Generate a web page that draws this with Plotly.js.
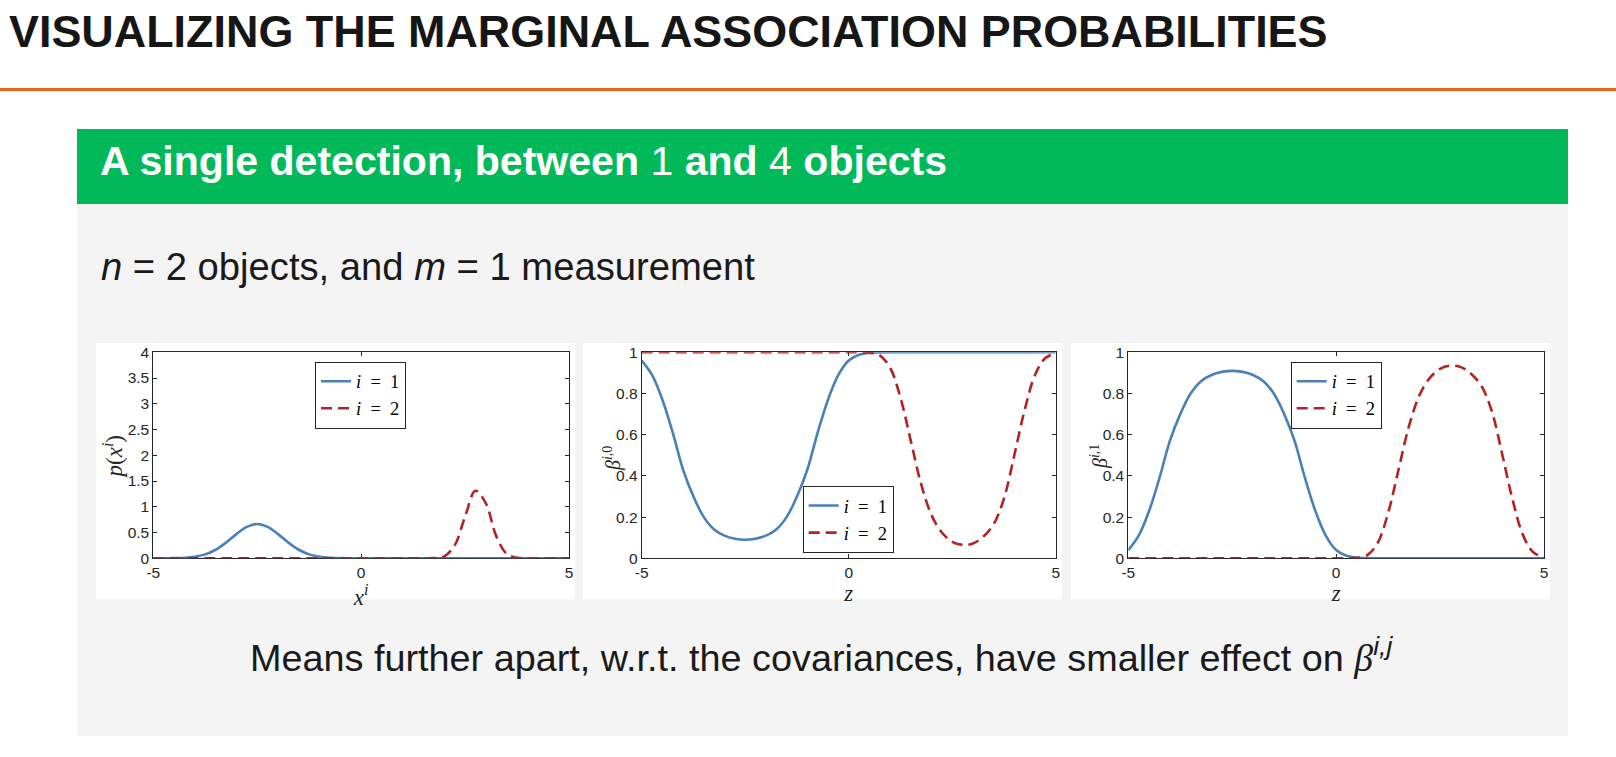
<!DOCTYPE html>
<html>
<head>
<meta charset="utf-8">
<script src="https://cdn.plot.ly/plotly-3.0.1.min.js"></script>
<style>
  html, body { margin: 0; padding: 0; background: #ffffff; overflow: hidden; }
  #chart { width: 1616px; height: 757px; }
</style>
</head>
<body>
<div id="chart"></div>
<script>
// ---------- data ----------
const zGrid = [-5, -4.75, -4.5, -4.25, -4, -3.75, -3.5, -3.25, -3, -2.75, -2.5, -2.25, -2, -1.75, -1.5, -1.25, -1, -0.75, -0.5, -0.25, 0,
               0.25, 0.5, 0.75, 1, 1.25, 1.5, 1.75, 2, 2.25, 2.5, 2.75, 3, 3.25, 3.5, 3.75, 4, 4.25, 4.5, 4.75, 5];

// p(x^i)
const pBlue = [0.0001, 0.0006, 0.0026, 0.0095, 0.029, 0.076, 0.166, 0.305, 0.47, 0.61, 0.665, 0.61, 0.47, 0.305, 0.166, 0.076, 0.029, 0.0095, 0.0026, 0.0006, 0.0001,
               0, 0, 0, 0, 0, 0, 0, 0, 0, 0, 0, 0, 0, 0, 0, 0, 0, 0, 0, 0];
const pRed  = [0, 0, 0, 0, 0, 0, 0, 0, 0, 0, 0, 0, 0, 0, 0, 0, 0, 0, 0, 0, 0,
               0, 0, 0, 0, 0, 0.0001, 0.003, 0.038, 0.25, 0.81, 1.31, 1.065, 0.43, 0.088, 0.009, 0.0004, 0, 0, 0, 0];

// beta^{i,0}
const beta0Blue = [0.96, 0.89, 0.77, 0.61, 0.43, 0.30, 0.20, 0.14, 0.11, 0.095, 0.09, 0.095, 0.11, 0.14, 0.20, 0.30, 0.43, 0.61, 0.77, 0.89, 0.96,
                   0.988, 0.997, 0.999, 1, 1, 1, 1, 1, 1, 1, 1, 1, 1, 1, 1, 1, 1, 1, 1, 1];
const beta0Red  = [1, 1, 1, 1, 1, 1, 1, 1, 1, 1, 1, 1, 1, 1, 1, 1, 1, 1, 1, 1, 1,
                   1, 0.998, 0.985, 0.925, 0.78, 0.57, 0.36, 0.21, 0.125, 0.08, 0.065, 0.072, 0.105, 0.165, 0.29, 0.50, 0.72, 0.89, 0.972, 0.995];

// beta^{i,1}
const beta1Blue = [0.04, 0.11, 0.23, 0.39, 0.57, 0.70, 0.80, 0.86, 0.89, 0.905, 0.91, 0.905, 0.89, 0.86, 0.80, 0.70, 0.57, 0.39, 0.23, 0.11, 0.04,
                   0.012, 0.003, 0.001, 0, 0, 0, 0, 0, 0, 0, 0, 0, 0, 0, 0, 0, 0, 0, 0, 0];
const beta1Red  = [0, 0, 0, 0, 0, 0, 0, 0, 0, 0, 0, 0, 0, 0, 0, 0, 0, 0, 0, 0, 0,
                   0, 0.002, 0.015, 0.075, 0.22, 0.43, 0.64, 0.79, 0.875, 0.92, 0.935, 0.928, 0.895, 0.835, 0.71, 0.50, 0.28, 0.11, 0.028, 0.005];

const seriesNames = ['<i>i</i>\u00a0\u00a0=\u00a0\u00a01', '<i>i</i>\u00a0\u00a0=\u00a0\u00a02'];
const xTickVals = [-5, 0, 5];
const xTickText = ['-5', '0', '5'];
const xTitles = ['<i>x</i><sup><i>i</i></sup>', '<i>z</i>', '<i>z</i>'];
const yTitles = ['<i>p</i>(<i>x</i><sup><i>i</i></sup>)', '<i>\u03b2</i><sup><i>i</i>,0</sup>', '<i>\u03b2</i><sup><i>i</i>,1</sup>'];

// ---------- layout helpers ----------
const W = 1616, H = 757;
const px = v => v / W;
const py = v => 1 - v / H;

const BLUE = '#4a80b8';
const RED = '#b22424';
const AXC = '#262626';
const SANS = 'Liberation Sans, Arial, Helvetica, sans-serif';
const SERIF = 'Liberation Serif, Times New Roman, serif';
const TICK_SIZE = 15.5;

function lineTrace(x, y, ax, leg, idx) {
  return {
    type: 'scatter', mode: 'lines', x: x, y: y,
    xaxis: 'x' + ax, yaxis: 'y' + ax,
    name: seriesNames[idx], legend: leg,
    cliponaxis: false, hoverinfo: 'skip',
    line: idx === 0 ? {color: BLUE, width: 2.6, shape: 'spline', smoothing: 1}
                    : {color: RED, width: 2.6, dash: '11px,6px', shape: 'spline', smoothing: 1}
  };
}

const data = [
  lineTrace(zGrid, pBlue, '', 'legend', 0),
  lineTrace(zGrid, pRed, '', 'legend', 1),
  lineTrace(zGrid, beta0Blue, '2', 'legend2', 0),
  lineTrace(zGrid, beta0Red, '2', 'legend2', 1),
  lineTrace(zGrid, beta1Blue, '3', 'legend3', 0),
  lineTrace(zGrid, beta1Red, '3', 'legend3', 1)
];

function axisBase() {
  return {
    showline: true, mirror: 'ticks', linecolor: AXC, linewidth: 1,
    ticks: 'inside', ticklen: 4, tickwidth: 1, tickcolor: AXC,
    showgrid: false, zeroline: false, fixedrange: true, layer: 'below traces',
    automargin: false,
    tickfont: {family: SANS, size: TICK_SIZE, color: AXC}
  };
}
function xAxis(d0, d1, anchor, title) {
  return Object.assign(axisBase(), {
    domain: [px(d0), px(d1)], range: [-5, 5], anchor: anchor,
    tickmode: 'array', tickvals: xTickVals, ticktext: xTickText,
    title: {text: title, standoff: 2, font: {family: SERIF, size: 23, color: AXC}}
  });
}
function yAxis(top, bottom, anchor, rmax, step) {
  return Object.assign(axisBase(), {
    domain: [py(bottom), py(top)], range: [0, rmax], anchor: anchor,
    tickmode: 'linear', tick0: 0, dtick: step
  });
}

function legendAt(x, y) {
  return {
    x: px(x), y: py(y), xanchor: 'left', yanchor: 'top',
    bgcolor: '#ffffff', bordercolor: AXC, borderwidth: 1,
    font: {family: SERIF, size: 18.5, color: '#000000'},
    itemwidth: 30, traceorder: 'normal'
  };
}

function rect(x0, y0, x1, y1, color) {
  return {type: 'rect', xref: 'paper', yref: 'paper', layer: 'below',
          x0: px(x0), x1: px(x1), y0: py(y1), y1: py(y0),
          fillcolor: color, line: {width: 0}};
}

function textAnn(text, x, y, size, color, family, extra) {
  return Object.assign({
    text: text, xref: 'paper', yref: 'paper', x: px(x), y: py(y),
    xanchor: 'left', yanchor: 'bottom', showarrow: false,
    font: {family: family, size: size, color: color}
  }, extra || {});
}
function yTitleAnn(text, x, y, size) {
  return textAnn(text, x, y, size, AXC, SERIF, {xanchor: 'center', yanchor: 'middle', textangle: -90});
}

const PLOT_TOP = 352.3, PLOT_BOT = 558.3;

const layout = {
  width: W, height: H,
  margin: {l: 0, r: 0, t: 0, b: 0},
  paper_bgcolor: '#ffffff', plot_bgcolor: 'rgba(0,0,0,0)',
  showlegend: true,
  xaxis: xAxis(153.3, 569, 'y', xTitles[0]),
  yaxis: yAxis(PLOT_TOP, PLOT_BOT, 'x', 4, 0.5),
  xaxis2: xAxis(641.7, 1055.7, 'y2', xTitles[1]),
  yaxis2: yAxis(PLOT_TOP, PLOT_BOT, 'x2', 1, 0.2),
  xaxis3: xAxis(1128.3, 1544, 'y3', xTitles[2]),
  yaxis3: yAxis(PLOT_TOP, PLOT_BOT, 'x3', 1, 0.2),
  legend: legendAt(315, 361.7),
  legend2: legendAt(802.7, 486),
  legend3: legendAt(1290.7, 361.7),
  shapes: [
    rect(77, 204, 1568, 736, '#f4f4f4'),
    rect(77, 129, 1568, 204, '#02b95a'),
    rect(96, 343, 575, 599.5, '#ffffff'),
    rect(583, 343, 1062, 599.5, '#ffffff'),
    rect(1071, 343, 1550, 599.5, '#ffffff'),
    rect(0, 88, 1616, 91, '#e8641c')
  ],
  annotations: [
    textAnn('<b>VISUALIZING THE MARGINAL ASSOCIATION PROBABILITIES</b>', 6.5, 58.8, 44.9, '#161616', SANS),
    textAnn('<b>A single detection, between </b>1<b> and </b>4<b> objects</b>', 98, 186.2, 41.05, '#ffffff', SANS),
    textAnn('<i>n</i> = 2 objects, and <i>m</i> = 1 measurement', 99, 290, 38.2, '#1a1a1a', SANS),
    textAnn('Means further apart, w.r.t. the covariances, have smaller effect on <span style="font-family:Liberation Serif;font-style:italic">\u03b2</span><sup><i>i,j</i></sup>', 248, 681, 37.8, '#1a1a1a', SANS),
    yTitleAnn(yTitles[0], 113, 456.5, 23),
    yTitleAnn(yTitles[1], 612, 459, 20),
    yTitleAnn(yTitles[2], 1099, 457, 20)
  ]
};

Plotly.newPlot('chart', data, layout, {staticPlot: true, displayModeBar: false}).then(function () {
  // drop empty placeholder text nodes that Plotly leaves behind (e.g. blank legend titles)
  document.querySelectorAll('#chart text').forEach(function (t) {
    if (!t.textContent.trim()) t.remove();
  });
});
</script>
</body>
</html>
